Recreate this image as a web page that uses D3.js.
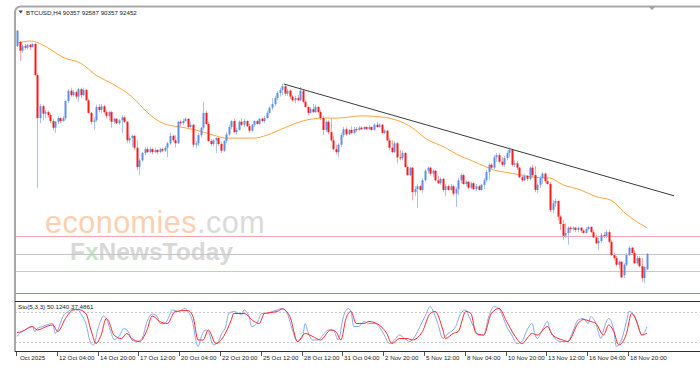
<!DOCTYPE html>
<html>
<head>
<meta charset="utf-8">
<script src="https://cdn.jsdelivr.net/npm/d3@7"></script>
<style>
  html, body { margin: 0; padding: 0; background: #fff; }
  svg { display: block; }
  text { font-family: "Liberation Sans", Arial, sans-serif; }
</style>
</head>
<body>
<div id="chart"></div>
<script>
// BTCUSD H4 candles, prices in thousands of USD
const opens = [
  120.5,121.1,119.9,120.5,120.3,120.7,120.4,120.8,116.6,110.8,112.4,111.4,111.6,111.2,110.4,109.5,
  110.3,110.8,110.4,110.8,113.1,114.5,113.9,114.3,113.7,114.7,113.9,114.6,113.2,111.5,110.3,110.5,
  112.3,111.9,112.4,111.6,111.1,111.6,110.3,110.7,110.1,110.5,110.9,110.3,107.8,108.1,108.4,106.8,
  104.2,105.1,106.1,106.6,106.2,106.6,106.2,106.5,106.2,106.6,106.4,106.8,107.4,108.4,107.8,107.4,
  110.3,110.1,110.4,110.7,109.6,109.9,107.2,107.4,108.5,109.5,111.5,110.0,107.7,107.3,107.8,108.1,
  107.3,106.4,107.7,108.6,109.6,110.4,108.9,109.2,110.3,109.9,110.4,109.7,109.1,109.9,110.4,110.0,
  110.7,110.4,110.8,111.5,112.2,112.7,113.5,114.2,114.6,115.1,114.1,114.5,113.7,113.2,113.5,113.2,
  114.5,113.0,112.3,111.5,112.0,111.6,112.3,111.6,110.8,109.2,110.3,108.9,107.8,106.6,106.2,107.2,
  108.5,109.3,108.6,109.2,108.8,109.3,109.2,109.5,109.3,109.6,109.3,109.6,109.2,109.9,109.6,109.9,
  108.8,109.1,107.8,106.8,106.2,107.4,105.5,105.4,106.1,104.2,103.1,104.1,100.8,101.2,101.6,101.1,
  102.4,103.7,104.1,103.3,103.7,102.4,102.0,102.6,101.1,101.6,101.1,101.6,100.6,101.2,102.4,103.1,
  101.9,102.2,101.4,102.0,101.2,101.6,101.1,101.8,102.4,103.5,104.5,104.1,105.5,105.8,104.9,104.5,
  105.4,106.1,106.5,104.5,104.7,104.1,102.8,102.4,103.0,102.6,104.1,103.1,101.1,101.8,102.7,103.3,
  102.3,101.9,98.4,99.3,99.6,97.5,96.5,94.9,95.3,96.0,95.8,96.0,95.7,96.0,95.6,95.3,
  95.8,96.1,95.4,94.7,93.9,94.2,95.0,94.9,95.4,94.1,92.3,91.9,91.0,91.4,89.6,91.0,
  92.3,93.3,92.6,91.2,91.9,90.8,89.2,90.357
];
const highs = [
  122.7,121.2,120.7,120.8,120.8,120.8,120.9,120.9,116.8,112.7,112.6,111.9,111.8,111.5,110.7,110.4,
  111.1,110.9,111.1,113.2,114.7,114.9,114.6,114.5,114.9,114.9,114.9,114.7,113.4,111.6,110.9,112.6,
  112.7,112.7,112.6,111.9,111.8,111.8,110.8,110.8,110.7,111.2,111.1,110.4,108.4,108.6,108.5,107.8,
  105.4,106.2,106.9,106.9,106.9,106.8,106.8,106.6,106.8,106.8,107.0,107.6,108.8,108.6,108.5,110.4,
  110.5,110.7,110.9,110.8,110.3,110.0,107.7,108.8,109.6,113.0,111.8,110.3,108.0,108.0,108.2,108.2,
  107.6,107.8,108.9,109.9,110.5,110.7,109.5,110.5,110.8,110.7,110.5,110.0,110.0,110.5,110.5,110.8,
  110.9,111.1,111.8,112.4,113.5,113.8,114.5,114.9,115.4,115.4,114.7,114.7,113.9,113.8,113.9,115.0,
  114.7,113.2,112.4,112.3,112.7,112.6,112.4,111.9,111.1,110.5,110.5,110.8,108.4,107.2,107.4,108.8,
  109.6,109.6,109.3,109.7,109.6,109.6,109.7,109.7,109.7,109.7,109.9,109.7,110.1,110.3,110.1,110.0,
  109.3,109.2,108.1,107.8,107.7,107.6,106.5,106.4,106.2,104.5,104.2,104.2,101.6,101.9,101.8,102.7,
  103.9,104.3,104.2,103.9,103.8,103.0,102.8,102.7,101.9,101.8,101.9,101.8,101.5,102.7,103.4,103.3,
  102.4,102.3,102.2,102.2,101.9,101.8,101.9,102.7,103.8,104.7,104.7,105.8,106.1,106.1,105.5,105.7,
  106.4,106.8,106.6,105.1,105.0,104.2,103.1,103.3,103.1,104.3,104.5,104.3,102.0,103.0,103.5,103.5,
  102.7,102.2,99.7,99.9,99.7,97.7,97.0,96.6,96.2,96.2,96.2,96.1,96.1,96.1,95.8,96.1,
  96.2,96.2,95.7,95.0,94.6,95.3,95.4,95.7,95.7,94.3,92.6,92.2,91.6,91.5,91.2,92.6,
  93.5,93.4,93.0,92.2,92.2,91.9,90.8,92.587
];
const lows = [
  120.4,118.5,119.6,120.0,120.1,120.0,120.3,116.5,101.4,110.1,110.5,110.8,110.9,110.1,109.1,108.8,
  110.0,110.1,110.3,110.5,112.8,113.7,113.7,113.4,113.0,113.5,113.8,113.1,111.4,109.9,109.2,110.3,
  111.6,111.5,111.4,110.8,110.5,109.5,110.0,110.0,109.9,108.8,110.1,107.4,107.4,106.9,106.5,103.8,
  103.1,104.9,105.8,106.1,106.1,105.9,106.1,105.9,106.1,106.2,106.2,105.5,107.2,107.6,106.8,107.3,
  109.7,109.9,110.3,109.3,109.5,106.9,106.8,107.0,108.2,109.2,109.9,107.6,107.0,107.0,106.1,107.0,
  106.1,106.2,107.4,108.4,109.3,108.8,108.6,109.1,109.7,109.6,109.6,108.8,108.9,109.6,109.9,109.9,
  110.3,110.1,110.7,111.4,111.9,112.4,113.2,113.7,113.9,113.8,113.8,113.4,113.0,112.8,113.1,113.1,
  112.8,112.2,111.2,111.4,111.5,111.5,111.4,110.5,108.5,108.9,108.6,107.6,106.4,105.9,105.5,106.9,
  108.2,108.4,108.5,108.6,108.6,108.9,109.1,109.2,109.2,109.2,109.2,109.1,109.1,109.5,109.5,108.6,
  108.6,107.7,106.5,106.1,106.1,104.7,105.1,105.1,104.1,103.0,103.0,99.7,100.3,98.7,101.0,100.7,
  102.2,103.3,103.0,102.8,102.2,101.9,101.8,100.8,100.3,101.0,101.0,100.3,98.8,100.4,102.0,101.8,
  101.6,101.2,101.2,101.1,101.0,101.0,101.0,101.2,102.2,102.4,103.8,103.9,104.9,104.7,104.3,104.2,
  105.1,105.5,104.3,104.2,103.8,102.7,102.2,102.3,102.3,102.4,102.8,100.8,100.7,101.4,101.9,102.0,
  101.8,98.1,98.0,98.8,97.0,95.7,94.3,94.6,93.7,95.3,95.6,95.4,95.4,95.3,95.2,95.2,
  95.6,95.3,94.6,93.8,93.0,93.9,94.6,94.6,93.9,92.2,91.6,90.8,90.4,89.2,89.2,90.8,
  92.2,92.3,91.1,91.0,90.6,88.7,88.5,90.357
];
const closes = [
  122.6,119.9,120.5,120.3,120.7,120.4,120.8,116.6,110.8,112.4,111.4,111.6,111.2,110.4,109.5,110.3,
  110.8,110.4,110.8,113.1,114.5,113.9,114.3,113.7,114.7,113.9,114.6,113.2,111.5,110.3,110.5,112.3,
  111.9,112.4,111.6,111.1,111.6,110.3,110.7,110.1,110.5,110.9,110.3,107.8,108.1,108.4,106.8,104.2,
  105.1,106.1,106.6,106.2,106.6,106.2,106.5,106.2,106.6,106.4,106.8,107.4,108.4,107.8,107.4,110.3,
  110.1,110.4,110.7,109.6,109.9,107.2,107.4,108.5,109.5,111.5,110.0,107.7,107.3,107.8,108.1,107.3,
  106.4,107.7,108.6,109.6,110.4,108.9,109.2,110.3,109.9,110.4,109.7,109.1,109.9,110.4,110.0,110.7,
  110.4,110.8,111.5,112.2,112.7,113.5,114.2,114.6,115.1,114.1,114.5,113.7,113.2,113.5,113.2,114.5,
  113.0,112.3,111.5,112.0,111.6,112.3,111.6,110.8,109.2,110.3,108.9,107.8,106.6,106.2,107.2,108.5,
  109.3,108.6,109.2,108.8,109.3,109.2,109.5,109.3,109.6,109.3,109.6,109.2,109.9,109.6,109.9,108.8,
  109.1,107.8,106.8,106.2,107.4,105.5,105.4,106.1,104.2,103.1,104.1,100.8,101.2,101.6,101.1,102.4,
  103.7,104.1,103.3,103.7,102.4,102.0,102.6,101.1,101.6,101.1,101.6,100.6,101.2,102.4,103.1,101.9,
  102.2,101.4,102.0,101.2,101.6,101.1,101.8,102.4,103.5,104.5,104.1,105.5,105.8,104.9,104.5,105.4,
  106.1,106.5,104.5,104.7,104.1,102.8,102.4,103.0,102.6,104.1,103.1,101.1,101.8,102.7,103.3,102.3,
  101.9,98.4,99.3,99.6,97.5,96.5,94.9,95.3,96.0,95.8,96.0,95.7,96.0,95.6,95.3,95.8,
  96.1,95.4,94.7,93.9,94.2,95.0,94.9,95.4,94.1,92.3,91.9,91.0,91.4,89.3,91.0,92.3,
  93.3,92.6,91.2,91.9,90.8,89.2,90.7,92.452
];

// orange moving average, read at these bars
const maBars = [0,5.5,12,18,25,31,38,45,51,55,59,64,70,77,82,93,98,105,112,116,121,126,135,144,149,155,160,168,173,178,184,187,193,198,203,209,214,221,227,233,238,243,247];
const maValues = [120.9,121.2,120.3,119.0,118.2,116.6,115.3,113.7,111.6,110.5,109.9,109.6,109.2,108.5,108.1,108.1,108.5,109.5,110.4,110.7,110.8,110.8,111.1,110.9,110.5,109.5,108.1,106.8,105.8,105.1,104.2,103.8,103.4,103.1,102.8,102.7,101.8,101.1,100.2,99.7,98.1,96.8,96.0];

// hand drawn trend line and horizontal levels
const trendBars = [104.6, 257.7];
const trendPrices = [115.4, 100.3];
const levelPrices = [94.88, 90.16, 87.19];
const levelColors = ["#f4a3ad", "#a9dcbc", "#5fb07f"];

// Stochastic (5,3,3)
const kBars = [0,1,3,6,7,8,10,14,15,16,18,20,22,24,25,27,29,30,32,34,35,37,38,40,42,44,45,47,49,51,53,55,56,58,59,61,63,66,67,69,70,71,72,74,75,77,79,80,82,83,85,87,88,89,91,92,94,96,98,100,102,104,106,108,110,112,113,114,116,118,120,122,124,126,128,130,
  131,132,134,136,138,140,142,144,146,148,150,152,154,156,158,160,162,163,165,167,169,171,172,174,176,177,179,181,183,185,187,189,191,192,194,196,198,200,202,203,204,206,208,209,211,213,216,218,220,222,224,225,227,229,230,232,234,235,237,239,240,242,244,245,247];
const kValues = [31,37,44,51,41,47,51,57,37,44,71,81,85,84,77,57,17,14,51,72,67,37,25,31,47,37,24,21,27,61,76,71,57,57,64,84,81,87,81,57,27,11,27,44,41,14,21,34,54,77,81,77,74,84,71,51,57,77,77,81,84,87,77,44,21,31,57,41,24,24,34,44,44,24,71,87,
  81,51,51,61,57,57,51,34,17,24,34,27,21,31,51,71,91,84,57,27,37,44,51,77,84,74,51,34,34,71,91,87,64,51,34,17,21,44,57,37,27,44,61,44,27,21,21,41,64,67,57,71,57,27,44,67,44,11,24,61,81,74,44,34,50.124];
const dBars = [0,2,6,8,12,14,16,19,22,24,27,29,31,33,35,36,38,41,43,45,48,51,53,56,59,62,67,69,71,73,75,78,81,84,85,89,93,95,97,102,104,107,110,113,116,119,123,125,127,129,
  131,133,136,138,142,145,147,150,153,155,159,162,164,167,168,171,173,176,178,180,183,186,189,192,195,198,202,204,208,210,214,216,220,222,225,227,230,232,234,236,239,241,243,245,247];
const dValues = [39,41,51,44,52,54,41,67,84,85,77,44,17,34,67,61,34,27,37,27,21,44,72,61,57,81,83,71,24,24,44,17,31,64,77,77,61,57,77,81,86,71,21,37,31,24,44,41,24,67,
  81,57,57,61,54,37,17,27,27,24,41,77,81,44,27,37,41,81,77,37,34,77,87,61,34,17,37,34,51,34,24,21,57,65,61,57,34,54,41,14,37,77,61,34,37.4861];
const stochLevels = [80, 20];

// time labels (every 16th bar)
const tickBars = [16,32,48,64,80,96,112,128,144,160,176,192,208,224,240];
const tickLabels = ["12 Oct 04:00","14 Oct 20:00","17 Oct 12:00","20 Oct 04:00","22 Oct 20:00","25 Oct 12:00","28 Oct 12:00","31 Oct 04:00","2 Nov 20:00","5 Nov 12:00","8 Nov 04:00","10 Nov 20:00","13 Nov 12:00","16 Nov 04:00","18 Nov 20:00"];

const W = 700, H = 374;
const fmt = d3.format(".0f");

const svg = d3.select("#chart").append("svg")
    .attr("width", W)
    .attr("height", H);

const x = d3.scaleLinear().domain([0, 247]).range([17, 646.9]);
const y = d3.scaleLinear().domain([86.645, 125.93]).range([297, 6]);
const ys = d3.scaleLinear().domain([0, 100]).range([352, 302]);

const defs = svg.append("defs");
defs.append("clipPath").attr("id", "mainClip")
    .append("rect").attr("x", 15).attr("y", 7).attr("width", W - 15).attr("height", 294);
defs.append("clipPath").attr("id", "stoClip")
    .append("rect").attr("x", 15).attr("y", 302).attr("width", W - 15).attr("height", 49);

// watermark
const wm = svg.append("g").attr("font-family", "'Open Sans', sans-serif");
const wm1 = wm.append("text").attr("x", 45).attr("y", 233)
    .attr("font-size", 30.5).attr("letter-spacing", 0.5);
wm1.append("tspan").attr("fill", "#fbcfb0").text("economies");
wm1.append("tspan").attr("fill", "#dadada").text(".com");
const wm2 = wm.append("text").attr("x", 70).attr("y", 259.5)
    .attr("font-size", 24.5).attr("font-weight", 600).attr("fill", "#d8d8d8");
wm2.append("tspan").text("F");
wm2.append("tspan").attr("fill", "#c6e2cc").text("x");
wm2.append("tspan").text("NewsToday");

const main = svg.append("g").attr("clip-path", "url(#mainClip)");

// horizontal levels
main.selectAll("line.level")
    .data(levelPrices)
    .join("line")
    .attr("class", "level")
    .attr("x1", 15).attr("x2", W)
    .attr("y1", d => Math.round(y(d)) + 0.5)
    .attr("y2", d => Math.round(y(d)) + 0.5)
    .attr("stroke", (d, i) => levelColors[i])
    .attr("stroke-width", 1);

// bid line at the last close
const lastClose = closes[closes.length - 1];
main.append("line")
    .attr("x1", 15).attr("x2", W)
    .attr("y1", Math.round(y(lastClose)) + 0.5)
    .attr("y2", Math.round(y(lastClose)) + 0.5)
    .attr("stroke", "#c4c4c4");

// moving average
main.append("path")
    .datum(maBars.map((b, i) => [b, maValues[i]]))
    .attr("fill", "none")
    .attr("stroke", "#ffa43a")
    .attr("stroke-width", 1)
    .attr("d", d3.line().x(d => x(d[0])).y(d => y(d[1])).curve(d3.curveMonotoneX));

// candles
const bars = d3.range(opens.length).map(i => ({
    i, o: opens[i], h: highs[i], l: lows[i], c: closes[i]
}));

const candle = main.append("g").selectAll("g")
    .data(bars)
    .join("g");

candle.append("line")
    .attr("x1", d => Math.round(x(d.i)) + 0.5)
    .attr("x2", d => Math.round(x(d.i)) + 0.5)
    .attr("y1", d => y(d.h))
    .attr("y2", d => y(d.l))
    .attr("stroke", d => d.c >= d.o ? "#a9c3f3" : "#f8a8a8")
    .attr("stroke-width", 1);

candle.append("rect")
    .attr("x", d => Math.round(x(d.i)) - 0.5)
    .attr("width", 2)
    .attr("y", d => y(Math.max(d.o, d.c)))
    .attr("height", d => Math.max(1, Math.abs(y(d.o) - y(d.c))))
    .attr("fill", d => d.c >= d.o ? "#5f8fe8" : "#ff1a1a");

// trend line
main.append("line")
    .attr("x1", x(trendBars[0])).attr("y1", y(trendPrices[0]))
    .attr("x2", x(trendBars[1])).attr("y2", y(trendPrices[1]))
    .attr("stroke", "#3a3a3a")
    .attr("stroke-width", 1);

// title
svg.append("path")
    .attr("d", "M18.5,10.5 L23,10.5 L20.75,13.5 Z")
    .attr("fill", "#444");
svg.append("text")
    .attr("x", 26).attr("y", 14.5)
    .attr("font-size", 6.2)
    .attr("fill", "#222")
    .text(`BTCUSD,H4  ${fmt(opens[247]*1000)} ${fmt(highs[247]*1000)} ${fmt(lows[247]*1000)} ${fmt(closes[247]*1000)}`);

// stochastic panel
const sto = svg.append("g").attr("clip-path", "url(#stoClip)");
sto.selectAll("line.lvl")
    .data(stochLevels)
    .join("line")
    .attr("class", "lvl")
    .attr("x1", 15).attr("x2", W)
    .attr("y1", d => Math.round(ys(d)) + 0.5)
    .attr("y2", d => Math.round(ys(d)) + 0.5)
    .attr("stroke", "#c8c8c8")
    .attr("stroke-dasharray", "2,2");

const kLine = d3.line().x(d => x(d[0])).y(d => ys(d[1])).curve(d3.curveMonotoneX);
sto.append("path")
    .datum(kBars.map((b, i) => [b, kValues[i]]))
    .attr("fill", "none")
    .attr("stroke", "#86a8f0")
    .attr("stroke-width", 1)
    .attr("d", kLine);
sto.append("path")
    .datum(dBars.map((b, i) => [b, dValues[i]]))
    .attr("fill", "none")
    .attr("stroke", "#ff2a2a")
    .attr("stroke-width", 1)
    .attr("d", kLine);

svg.append("text")
    .attr("x", 18).attr("y", 309)
    .attr("font-size", 6.2)
    .attr("fill", "#222")
    .text(`Sto(5,3,3) ${kValues[kValues.length - 1].toFixed(4)} ${dValues[dValues.length - 1].toFixed(4)}`);

// frames
svg.append("path")
    .attr("d", `M15,352 L15,13 Q15,6.5 21,6.5 L${W},6.5`)
    .attr("fill", "none")
    .attr("stroke", "#a8a8a8")
    .attr("stroke-width", 2);
svg.append("path")
    .attr("d", "M649,7 L655,7 L652,10 Z")
    .attr("fill", "#a0a0a0");
svg.append("line")
    .attr("x1", 15).attr("x2", W).attr("y1", 301.5).attr("y2", 301.5)
    .attr("stroke", "#303030");
svg.append("line")
    .attr("x1", 15).attr("x2", W).attr("y1", 351.5).attr("y2", 351.5)
    .attr("stroke", "#303030");

// time axis
const axis = svg.append("g");
axis.append("text")
    .attr("x", 20).attr("y", 359.5)
    .attr("font-size", 6.2).attr("fill", "#222")
    .text("Oct 2025");
axis.append("line")
    .attr("x1", 16.5).attr("x2", 16.5).attr("y1", 352).attr("y2", 356)
    .attr("stroke", "#555");
axis.selectAll("line.tick")
    .data(tickBars)
    .join("line")
    .attr("class", "tick")
    .attr("x1", d => Math.round(x(d)) - 0.5)
    .attr("x2", d => Math.round(x(d)) - 0.5)
    .attr("y1", 352).attr("y2", 356)
    .attr("stroke", "#555");
axis.selectAll("text.tl")
    .data(tickBars)
    .join("text")
    .attr("class", "tl")
    .attr("x", d => Math.round(x(d)) + 1)
    .attr("y", 359.5)
    .attr("font-size", 6.2)
    .attr("fill", "#222")
    .text((d, i) => tickLabels[i]);
</script>
</body>
</html>
